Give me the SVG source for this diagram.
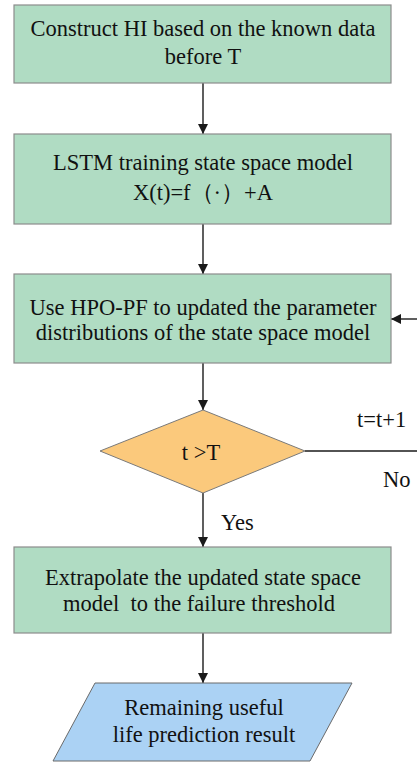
<svg xmlns="http://www.w3.org/2000/svg" width="417" height="762" viewBox="0 0 417 762">
  <defs>
    <marker id="arrow" viewBox="0 0 10 10" refX="10" refY="5" markerWidth="10" markerHeight="10" markerUnits="userSpaceOnUse" orient="auto">
      <path d="M0,0 L10,5 L0,10 z" fill="#1a1a1a"/>
    </marker>
    <style>
      .box { fill: #b0dcc3; stroke: #8c8c8c; stroke-width: 1.2; }
      .dec { fill: #fbc97c; stroke: #7a7a7a; stroke-width: 1; }
      .io { fill: #abd2f4; stroke: #6a6a6a; stroke-width: 1; }
      .t { font-family: "Liberation Serif", "Times New Roman", serif; font-size: 22.5px; fill: #111; text-anchor: middle; white-space: pre; }
      .lbl { font-family: "Liberation Serif", "Times New Roman", serif; font-size: 22.5px; fill: #111; }
      .line { stroke: #1a1a1a; stroke-width: 1.4; fill: none; }
    </style>
  </defs>
  <rect width="417" height="762" fill="#ffffff"/>

  <g id="connectors">
    <line class="line" x1="203" y1="83" x2="203" y2="134" marker-end="url(#arrow)"/>
    <line class="line" x1="203" y1="224" x2="203" y2="274" marker-end="url(#arrow)"/>
    <line class="line" x1="203" y1="363" x2="203" y2="410" marker-end="url(#arrow)"/>
    <line class="line" x1="203" y1="493" x2="203" y2="547" marker-end="url(#arrow)"/>
    <line class="line" x1="203" y1="633" x2="203" y2="683" marker-end="url(#arrow)"/>
    <line class="line" x1="305" y1="451" x2="417" y2="451"/>
    <line class="line" x1="417" y1="319" x2="391" y2="319" marker-end="url(#arrow)"/>
    <text class="lbl" x="357" y="427">t=t+1</text>
    <text class="lbl" x="383" y="487">No</text>
    <text class="lbl" x="221" y="530">Yes</text>
  </g>

  <g id="construct-hi">
    <rect class="box" x="14" y="5" width="377" height="78"/>
    <text class="t" x="203" y="36">Construct HI based on the known data</text>
    <text class="t" x="203" y="64">before T</text>
  </g>

  <g id="lstm-training">
    <rect class="box" x="14" y="134" width="377" height="90"/>
    <text class="t" x="203" y="170">LSTM training state space model</text>
    <text class="t" x="203" y="200">X(t)=f（·）+A</text>
  </g>

  <g id="hpo-pf-update">
    <rect class="box" x="14" y="274" width="377" height="89"/>
    <text class="t" x="203" y="315">Use HPO-PF to updated the parameter</text>
    <text class="t" x="203" y="340">distributions of the state space model</text>
  </g>

  <g id="decision">
    <polygon class="dec" points="203,410 305,451 203,493 100,451"/>
    <text class="t" x="201" y="460">t &gt;T</text>
  </g>

  <g id="extrapolate">
    <rect class="box" x="14" y="547" width="377" height="86"/>
    <text class="t" x="203" y="585">Extrapolate the updated state space</text>
    <text class="t" x="199" y="611">model  to the failure threshold</text>
  </g>

  <g id="rul-result">
    <polygon class="io" points="95,683 352,683 310,761 53,761"/>
    <text class="t" x="204" y="715">Remaining useful</text>
    <text class="t" x="204" y="742">life prediction result</text>
  </g>
</svg>
